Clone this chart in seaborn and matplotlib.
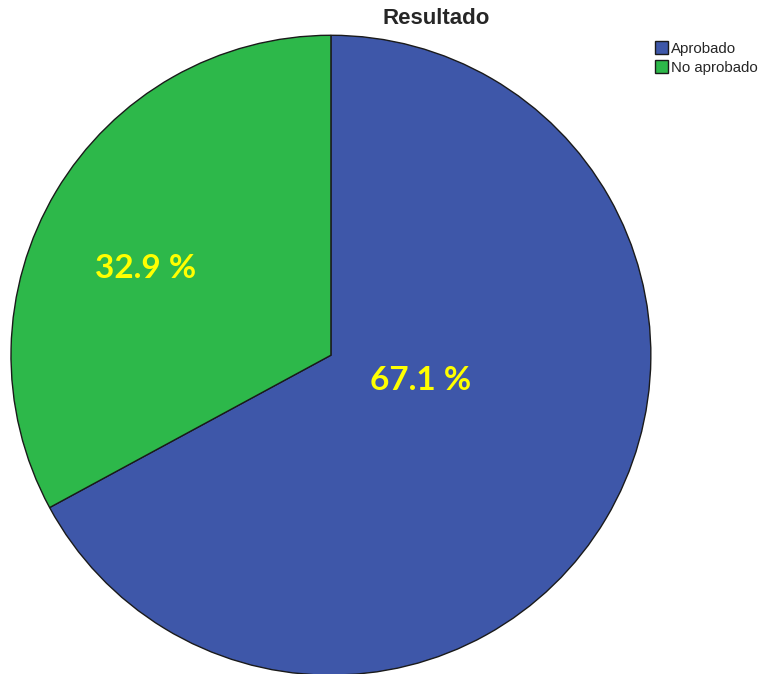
import matplotlib

matplotlib.use("Agg")
import matplotlib.pyplot as plt
import seaborn as sns

sns.set_style("white")
plt.rcParams["font.family"] = ["Liberation Sans", "DejaVu Sans"]

categorias = ["Aprobado", "No aprobado"]
porcentajes = [67.1, 32.9]
colores = ["#3e57a9", "#2db84a"]

fig = plt.figure(figsize=(7.59, 6.74), dpi=100)
ax = fig.add_axes([0.0145, -0.002, 0.843, 0.950])

wedges, textos, autotextos = ax.pie(
    porcentajes,
    colors=colores,
    startangle=90,
    counterclock=False,
    radius=1,
    autopct=lambda p: f"{p:.1f} %",
    wedgeprops={"edgecolor": "#1a1a1a", "linewidth": 1},
    textprops={"color": "#ffff00", "fontsize": 24, "fontweight": "bold",
               "family": ["Lato", "DejaVu Sans"]},
)
# posiciones de las etiquetas como en el original
autotextos[0].set_position((0.28, -0.08))
autotextos[1].set_position((-0.58, 0.27))

ax.set_xlim(-1, 1)
ax.set_ylim(-1, 1)
ax.set_aspect("equal")
ax.axis("off")

fig.text(0.575, 0.972, "Resultado", ha="center", va="center",
         fontsize=16, fontweight="bold")

fig.legend(wedges, categorias, loc="upper left", bbox_to_anchor=(0.863, 0.939),
           frameon=False, fontsize=10.8, handlelength=0.85, handleheight=0.95,
           handletextpad=0.2, labelspacing=0.3, borderaxespad=0, borderpad=0)

plt.savefig("out.png", dpi=100)
